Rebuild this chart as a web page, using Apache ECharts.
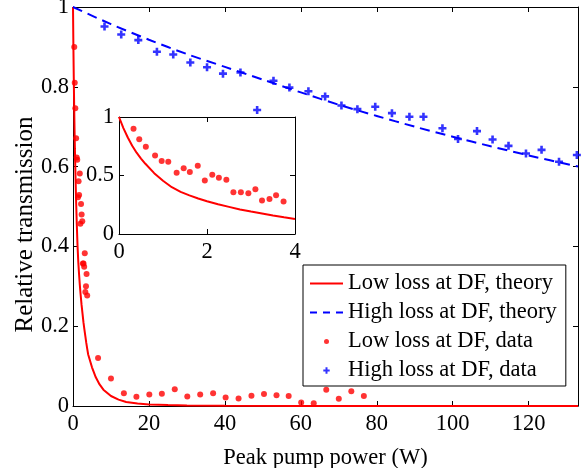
<!DOCTYPE html>
<html>
<head>
  <meta charset="utf-8">
  <title>Relative transmission</title>
  <script src="https://cdn.jsdelivr.net/npm/echarts@6/dist/echarts.min.js"></script>
</head>
<body style="margin:0">
  <div id="container" style="height: 468px; width: 586px"></div>
  <script>
    // theory curves
    var lowTheoryX = [0, 0.1, 0.2, 0.3, 0.4, 0.5, 0.6, 0.8, 1.0, 1.2, 1.4, 1.6, 1.8, 2.0, 2.25, 2.5, 2.75, 3.0, 3.25, 3.5, 3.75, 4.0,
      5, 6, 7, 8, 10, 12, 14, 17, 20, 25, 30, 40, 60, 90, 133];
    var lowTheoryY = [1, 0.905, 0.825, 0.755, 0.695, 0.645, 0.60, 0.52, 0.455, 0.40, 0.36, 0.33, 0.303, 0.28, 0.254, 0.232, 0.21, 0.192, 0.175, 0.158, 0.143, 0.129,
      0.097, 0.072, 0.054, 0.041, 0.025, 0.016, 0.010, 0.006, 0.004, 0.0025, 0.0015, 0.0008, 0.0003, 0.0001, 0];
    var highTheoryX = [0, 10, 20, 30, 40, 50, 60, 70, 80, 90, 100, 110, 120, 133];
    var highTheoryY = [1, 0.957, 0.918, 0.882, 0.850, 0.818, 0.786, 0.755, 0.727, 0.700, 0.675, 0.651, 0.628, 0.600];
    // measured points
    var lowDataX = [0.33, 0.46, 0.61, 0.82, 0.97, 1.12, 1.31, 1.47, 1.61, 1.79, 1.95, 2.12, 2.27, 2.44, 2.60, 2.77, 2.94, 3.10, 3.25, 3.42, 3.57, 3.74,
      6.6, 10.0, 13.4, 16.7, 20.1, 23.4, 26.8, 30.1, 33.5, 36.9, 40.2, 43.6, 47.0, 50.3, 53.6, 56.8, 60.1, 63.4, 66.7, 70.0, 73.3, 76.6];
    var lowDataY = [0.90, 0.81, 0.746, 0.671, 0.623, 0.617, 0.523, 0.563, 0.529, 0.583, 0.457, 0.506, 0.48, 0.463, 0.357, 0.357, 0.349, 0.383, 0.286, 0.30, 0.331, 0.277,
      0.12, 0.069, 0.032, 0.023, 0.029, 0.031, 0.042, 0.024, 0.029, 0.032, 0.021, 0.019, 0.026, 0.03, 0.027, 0.025, 0.009, 0.007, 0.041, 0.018, 0.037, 0.025];
    var highDataX = [8.3, 12.7, 17.2, 22.1, 26.4, 30.9, 35.3, 39.5, 44.1, 48.5, 52.8, 57.0, 62.0, 66.4, 70.7, 74.9, 79.6, 84.0, 88.6, 92.3, 97.3, 101.4, 106.4, 110.5, 114.7, 119.3, 123.4, 128.0, 132.7];
    var highDataY = [0.951, 0.931, 0.917, 0.888, 0.881, 0.861, 0.849, 0.833, 0.836, 0.742, 0.815, 0.798, 0.789, 0.776, 0.753, 0.744, 0.750, 0.734, 0.725, 0.725, 0.696, 0.669, 0.689, 0.668, 0.652, 0.633, 0.642, 0.612, 0.629];
    var names = ['Low loss at DF, theory', 'High loss at DF, theory', 'Low loss at DF, data', 'High loss at DF, data'];
    var insetMax = 4;

    function pairs(xs, ys, maxX) {
      var out = [];
      for (var i = 0; i < xs.length; i++) {
        if (maxX === undefined || xs[i] <= maxX) out.push([xs[i], ys[i]]);
      }
      return out;
    }

    var font = 'Liberation Serif';
    var fs = 22.5;
    var red = '#ff0000';
    var blue = '#0000ff';
    var plus = 'path://M2.7,0h2.6v2.7h2.7v2.6h-2.7v2.7h-2.6v-2.7h-2.7v-2.6h2.7z';

    function axisBase(extra) {
      var a = {
        nameMoveOverlap: false,
        axisLine: { show: true, onZero: false, lineStyle: { color: '#000', width: 1 } },
        axisTick: { show: true, inside: true, length: 5, lineStyle: { color: '#000' } },
        axisLabel: { color: '#000', fontFamily: font, fontSize: fs, margin: 7 },
        splitLine: { show: false }
      };
      return Object.assign(a, extra);
    }
    function mirror(extra) {
      var a = axisBase(extra);
      a.axisLabel = { show: false };
      return a;
    }

    var container = document.getElementById('container');
    var myChart = echarts.init(container);
    var option = {
      animation: false,
      backgroundColor: '#fff',
      textStyle: { fontFamily: font },
      grid: [
        { left: 73, top: 7, right: 8, bottom: 62, outerBoundsMode: 'none', containLabel: false },
        { left: 119, top: 117, width: 176, height: 117, outerBoundsMode: 'none', containLabel: false,
          show: true, backgroundColor: '#fff', borderWidth: 0, z: 5 }
      ],
      xAxis: [
        axisBase({ type: 'value', gridIndex: 0, min: 0, max: 133, interval: 20,
          name: 'Peak pump power (W)', nameLocation: 'middle', nameGap: 41,
          nameTextStyle: { color: '#000', fontFamily: font, fontSize: fs },
          axisLabel: { color: '#000', fontFamily: font, fontSize: fs, margin: 7, showMaxLabel: false } }),
        mirror({ type: 'value', gridIndex: 0, position: 'top', min: 0, max: 133, interval: 20 }),
        axisBase({ type: 'value', gridIndex: 1, min: 0, max: insetMax, interval: 2, z: 10 }),
        mirror({ type: 'value', gridIndex: 1, position: 'top', min: 0, max: insetMax, interval: 2, z: 10 })
      ],
      yAxis: [
        axisBase({ type: 'value', gridIndex: 0, min: 0, max: 1, interval: 0.2,
          name: 'Relative transmission', nameLocation: 'middle', nameGap: 35,
          nameTextStyle: { color: '#000', fontFamily: font, fontSize: 25, padding: [0, 36, 0, 0] },
          axisLabel: { color: '#000', fontFamily: font, fontSize: fs, margin: 4 } }),
        mirror({ type: 'value', gridIndex: 0, position: 'right', min: 0, max: 1, interval: 0.2 }),
        axisBase({ type: 'value', gridIndex: 1, min: 0, max: 1, interval: 0.5, z: 10,
          axisLabel: { color: '#000', fontFamily: font, fontSize: fs, margin: 5 } }),
        mirror({ type: 'value', gridIndex: 1, position: 'right', min: 0, max: 1, interval: 0.5, z: 10 })
      ],
      legend: {
        orient: 'vertical',
        left: 303,
        top: 265,
        padding: [7, 9, 4, 7],
        itemGap: 6,
        itemWidth: 33,
        itemHeight: 14,
        backgroundColor: '#fff',
        borderColor: '#000',
        borderWidth: 1,
        borderRadius: 0,
        textStyle: { color: '#000', fontFamily: font, fontSize: fs, lineHeight: 22 },
        data: [
          { name: names[0], icon: 'path://M0,0M33,14M0,6h33v2h-33z', itemStyle: { color: red, borderWidth: 0 } },
          { name: names[1], icon: 'path://M0,0M33,14M0,6h7v2h-7zM13,6h7v2h-7zM26,6h7v2h-7z', itemStyle: { color: blue, borderWidth: 0 } },
          { name: names[2], icon: 'path://M0,0M33,14M14,7a2.5,2.5 0 1,0 5,0a2.5,2.5 0 1,0 -5,0z', itemStyle: { color: red, borderWidth: 0 } },
          { name: names[3], icon: 'path://M0,0M33,14M15.5,3.8h2v2.2h2.2v2h-2.2v2.2h-2v-2.2h-2.2v-2h2.2z', itemStyle: { color: blue, borderWidth: 0 } }
        ]
      },
      series: [
        {
          name: names[0], type: 'line', xAxisIndex: 0, yAxisIndex: 0,
          data: pairs(lowTheoryX, lowTheoryY), symbol: 'none',
          color: red, lineStyle: { color: red, width: 2 }
        },
        {
          name: names[1], type: 'line', xAxisIndex: 0, yAxisIndex: 0,
          data: pairs(highTheoryX, highTheoryY), symbol: 'none', smooth: 0.3,
          color: blue, lineStyle: { color: blue, width: 2, type: [10, 6] }
        },
        {
          name: names[2], type: 'scatter', xAxisIndex: 0, yAxisIndex: 0,
          data: pairs(lowDataX, lowDataY), symbol: 'circle', symbolSize: 6,
          color: red, itemStyle: { color: red }
        },
        {
          name: names[3], type: 'scatter', xAxisIndex: 0, yAxisIndex: 0,
          data: pairs(highDataX, highDataY), symbol: plus, symbolSize: 8,
          color: blue, itemStyle: { color: blue }
        },
        {
          name: names[0], type: 'line', xAxisIndex: 2, yAxisIndex: 2, z: 10,
          data: pairs(lowTheoryX, lowTheoryY, insetMax), symbol: 'none',
          color: red, lineStyle: { color: red, width: 2 }
        },
        {
          name: names[2], type: 'scatter', xAxisIndex: 2, yAxisIndex: 2, z: 10,
          data: pairs(lowDataX, lowDataY, insetMax), symbol: 'circle', symbolSize: 6,
          color: red, itemStyle: { color: red }
        }
      ]
    };
    myChart.setOption(option);
  </script>
</body>
</html>
